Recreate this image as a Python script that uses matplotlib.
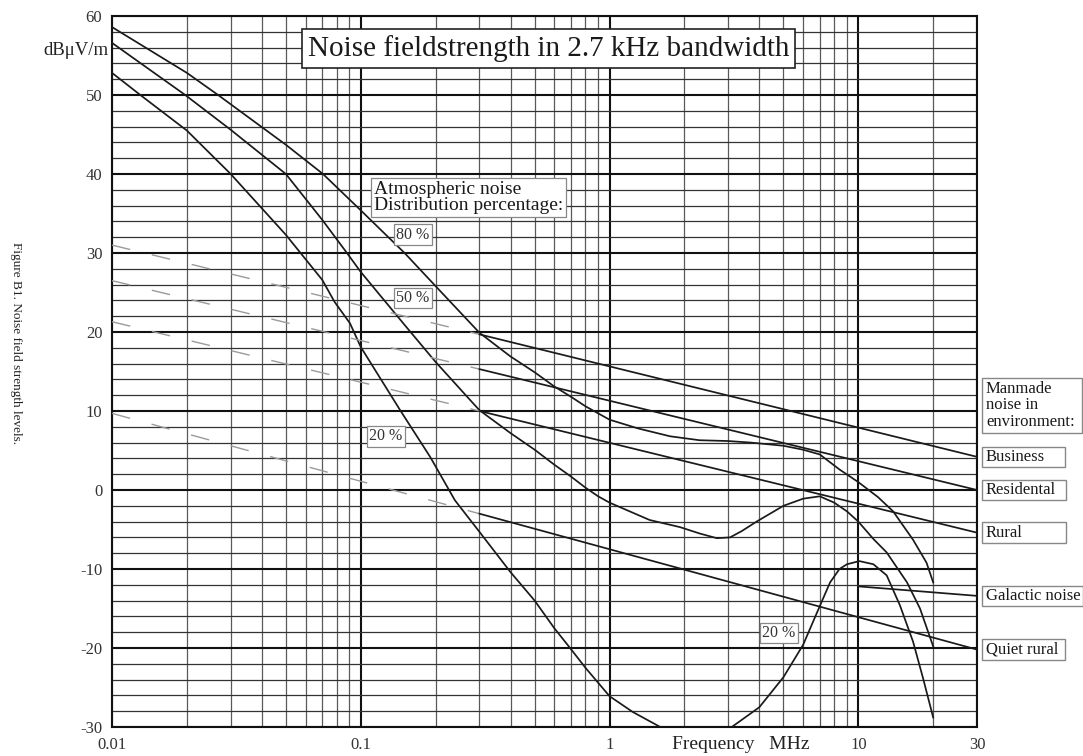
import matplotlib
matplotlib.use('Agg')
import matplotlib.pyplot as plt
from matplotlib.patches import Rectangle
from matplotlib.ticker import FixedLocator, NullFormatter
from matplotlib.transforms import blended_transform_factory

plt.rcParams['font.family'] = ['Liberation Serif', 'DejaVu Serif']
plt.rcParams['axes.unicode_minus'] = False

# --- data (frequency in MHz, level in dBuV/m) ---
f80 = [0.01, 0.02, 0.0267, 0.05, 0.0705, 0.1, 0.15, 0.2, 0.3, 0.4, 0.5, 0.6, 0.7, 0.8,
       1.0, 1.3, 1.75, 2.3, 3.0, 3.7, 5.0, 6.0, 7.0, 8.4, 10, 12, 13.8, 16.6, 18.8, 20]
v80 = [58.6, 52.8, 50.0, 43.7, 40.0, 35.4, 30.0, 25.8, 19.9, 16.9, 14.9, 13.1, 11.8, 10.6,
       8.9, 7.8, 6.8, 6.3, 6.2, 6.0, 5.6, 5.1, 4.5, 2.6, 1.0, -0.9, -2.7, -6.3, -9.2, -11.7]

f50 = [0.01, 0.0197, 0.03, 0.05, 0.07, 0.088, 0.1, 0.15, 0.2, 0.275, 0.3, 0.4, 0.5, 0.6,
       0.7, 0.8, 0.9, 1.0, 1.45, 1.92, 2.3, 2.7, 3.05, 3.4, 3.9, 5.0, 6.0, 7.0, 8.0, 9.0,
       10, 11.5, 13.0, 15.7, 17.7, 20]
v50 = [56.6, 50.0, 45.6, 40.0, 34.2, 30.0, 27.6, 20.9, 16.2, 11.4, 10.1, 7.2, 5.1, 3.2,
       1.7, 0.3, -0.8, -1.6, -3.8, -4.7, -5.5, -6.1, -6.0, -5.2, -4.0, -2.0, -1.1, -0.8,
       -1.6, -2.7, -4.0, -6.2, -7.9, -11.7, -15.0, -19.8]

f20 = [0.01, 0.013, 0.02, 0.03, 0.05, 0.07, 0.0785, 0.0905, 0.1, 0.144, 0.19, 0.239,
       0.3, 0.4, 0.5, 0.6, 0.69, 0.8, 1.0, 1.24, 1.6, 2.2, 3.1, 4.0, 5.0, 6.0, 7.0, 7.7,
       8.4, 9.0, 10.1, 11.5, 13.0, 14.7, 16.6, 18.2, 20]
v20 = [52.8, 50.0, 45.5, 40.0, 32.3, 26.6, 23.8, 21.1, 18.1, 10.1, 4.2, -1.3,
       -5.3, -10.4, -14.0, -17.5, -19.9, -22.5, -26.1, -28.1, -30.0, -31.5, -30.0, -27.5,
       -23.7, -19.6, -14.7, -11.7, -10.0, -9.4, -9.0, -9.4, -10.8, -14.6, -19.2, -23.8,
       -28.8]

# manmade noise: dashed part 0.01-0.3 MHz, solid part 0.3-30 MHz
mm_freq = [0.01, 0.3, 30]
business = [31.0, 19.7, 4.2]
residental = [26.5, 15.3, 0.0]
rural = [21.3, 10.0, -5.4]
quiet_rural = [9.7, -3.0, -20.2]

gal_freq = [10, 30]
galactic = [-12.2, -13.4]

xtick_vals = [0.01, 0.1, 1, 10, 30]
xtick_labels = ['0.01', '0.1', '1', '10', '30']
ytick_vals = list(range(-30, 61, 10))

W, H = 1083, 756
fig = plt.figure(figsize=(W / 100, H / 100), dpi=100)
ax = fig.add_axes([112 / W, 1 - 727 / H, 865 / W, 711 / H])
ax.set_xscale('log')
ax.set_xlim(0.01, 30)
ax.set_ylim(-30, 60)

ax.xaxis.set_major_locator(FixedLocator(xtick_vals))
ax.set_xticklabels(xtick_labels)
minor_x = [k * 10.0 ** e for e in (-2, -1, 0) for k in range(2, 10)] + [20]
ax.xaxis.set_minor_locator(FixedLocator(minor_x))
ax.xaxis.set_minor_formatter(NullFormatter())
ax.yaxis.set_major_locator(FixedLocator(ytick_vals))
ax.yaxis.set_minor_locator(FixedLocator(list(range(-30, 61, 2))))

ax.grid(which='major', axis='both', color='#111111', lw=1.5)
ax.grid(which='minor', axis='x', color='#5a5a5a', lw=0.9)
ax.grid(which='minor', axis='y', color='#333333', lw=0.9)
ax.set_axisbelow(True)
ax.tick_params(which='both', length=0, labelsize=12, colors='#333333')
ax.tick_params(axis='x', pad=7)
ax.tick_params(axis='y', pad=7)
for s in ax.spines.values():
    s.set_linewidth(1.5)
    s.set_color('#111111')

line_kw = dict(color='#1a1a1a', lw=1.25, zorder=3)
ax.plot(f80, v80, **line_kw)
ax.plot(f50, v50, **line_kw)
ax.plot(f20, v20, **line_kw)

for vals in (business, residental, rural, quiet_rural):
    ax.plot(mm_freq[:2], vals[:2], color='#9a9a9a', lw=1.0, dashes=(13.5, 16), zorder=3)
    ax.plot(mm_freq[1:], vals[1:], **line_kw)
ax.plot(gal_freq, galactic, **line_kw)

# boxed labels inside the plot
small_box = dict(boxstyle='square,pad=0.15', fc='white', ec='#888888', lw=0.9)
ax.text(0.570, 55.9, 'Noise fieldstrength in 2.7 kHz bandwidth', fontsize=21,
        ha='center', va='center', color='#1a1a1a', zorder=5,
        bbox=dict(boxstyle='square,pad=0.2', fc='white', ec='#222222', lw=1.2))
ax.text(0.113, 37.0, 'Atmospheric noise\nDistribution percentage:', fontsize=14,
        ha='left', va='center', linespacing=0.95, color='#1a1a1a', zorder=5, bbox=small_box)
ax.text(0.162, 32.3, '80 %', fontsize=11.5, ha='center', va='center', color='#333333',
        zorder=5, bbox=small_box)
ax.text(0.162, 24.3, '50 %', fontsize=11.5, ha='center', va='center', color='#333333',
        zorder=5, bbox=small_box)
ax.text(0.126, 6.8, '20 %', fontsize=11.5, ha='center', va='center', color='#333333',
        zorder=5, bbox=small_box)
ax.text(4.8, -18.1, '20 %', fontsize=11.5, ha='center', va='center', color='#333333',
        zorder=5, bbox=small_box)

# boxed labels right of the plot
trans = blended_transform_factory(ax.transAxes, ax.transData)


def side_label(y, text, width_px, height_dB):
    x0 = 1 + 5 / 865
    ax.add_patch(Rectangle((x0, y - height_dB / 2), width_px / 865, height_dB,
                           transform=trans, fc='white', ec='#888888', lw=1.0,
                           clip_on=False, zorder=5))
    ax.text(x0 + 4 / 865, y, text, transform=trans, fontsize=12, ha='left',
            va='center', linespacing=1.05, color='#1a1a1a', clip_on=False, zorder=6)


side_label(10.7, 'Manmade\nnoise in\nenvironment:', 100, 7.0)
side_label(business[-1], 'Business', 83, 2.6)
side_label(residental[-1], 'Residental', 84, 2.6)
side_label(rural[-1], 'Rural', 84, 2.6)
side_label(galactic[-1], 'Galactic noise', 101, 2.6)
side_label(quiet_rural[-1], 'Quiet rural', 83, 2.6)

# axis texts
ax.text(-4 / 865, 55.6, 'dB\u03bcV/m', transform=trans, fontsize=13.5, ha='right',
        va='center', color='#222222')
ax.text(0.727, -0.012, 'Frequency   MHz', transform=ax.transAxes, fontsize=14,
        ha='center', va='top', color='#222222')
fig.text(16 / W, 1 - 343 / H, 'Figure B1. Noise field strength levels.', rotation=270,
         fontsize=9.5, ha='center', va='center', color='#222222')

fig.savefig('out.png', dpi=100)
